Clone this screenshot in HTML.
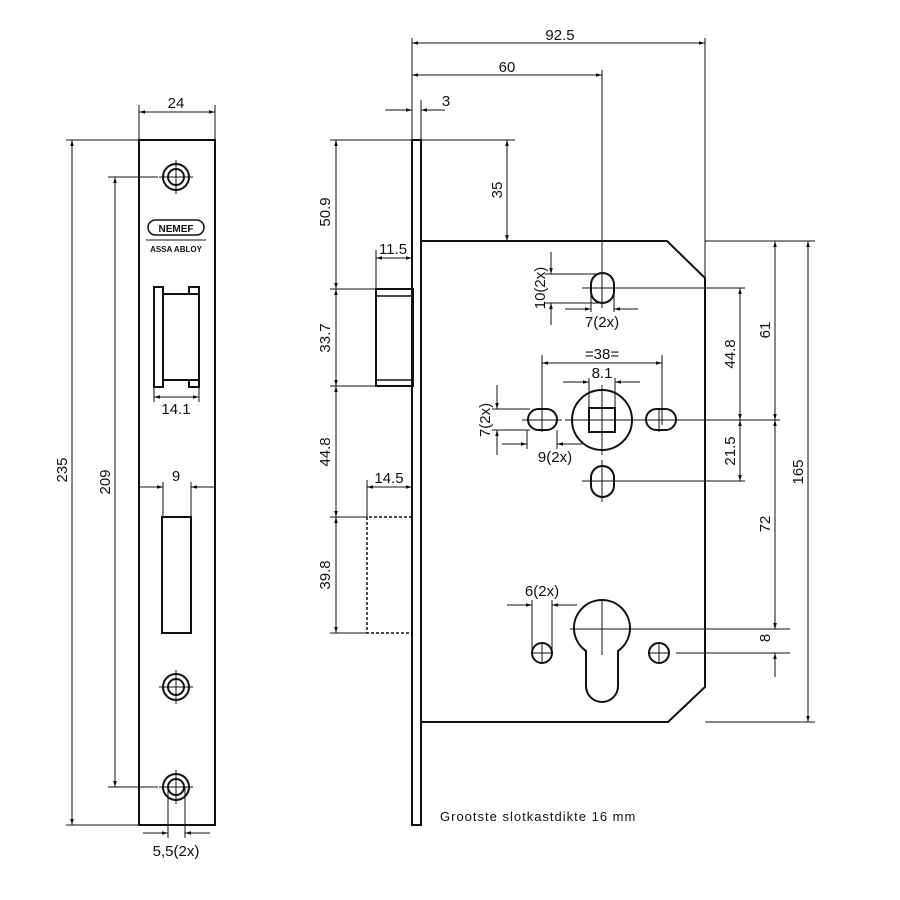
<!DOCTYPE html>
<html><head><meta charset="utf-8"><style>
html,body{margin:0;padding:0;background:#fff;width:900px;height:900px;overflow:hidden}
svg text{font-family:"Liberation Sans",sans-serif;font-size:15px;fill:#111}
</style></head><body>
<svg width="900" height="900" viewBox="0 0 900 900" xmlns="http://www.w3.org/2000/svg">
<defs>
<marker id="a" viewBox="0 0 10 10" refX="10" refY="5" markerWidth="8" markerHeight="6" orient="auto-start-reverse" markerUnits="userSpaceOnUse"><path d="M0,2 L10,5 L0,8z" fill="#111"/></marker>
</defs>
<g fill="none" stroke="#111" stroke-width="2">
<rect x="139" y="140" width="76" height="685"/>
<circle cx="176" cy="177" r="13"/><circle cx="176" cy="177" r="8"/>
<circle cx="176" cy="687" r="13"/><circle cx="176" cy="687" r="8"/>
<circle cx="176" cy="787" r="13"/><circle cx="176" cy="787" r="8"/>
<rect x="148" y="220" width="56" height="15" rx="7.5" stroke-width="1.5"/>
<rect x="154" y="287" width="9" height="100"/>
<rect x="163" y="294" width="36" height="86"/>
<rect x="189" y="287" width="10" height="7"/>
<rect x="189" y="380" width="10" height="7"/>
<rect x="162" y="517" width="29" height="116"/>
<rect x="412" y="140" width="9" height="685"/>
<path d="M421,241 H667 L705,278 V687 L668,722 H421"/>
<rect x="376" y="289" width="37" height="97"/>
<path d="M376,296 H412 M376,380 H412" stroke-width="1.5"/>
<path d="M412,517 H367 V633 H412" stroke-dasharray="3,2" stroke-width="1.5"/>
<rect x="591" y="273" width="23" height="30" rx="11.5"/>
<rect x="591" y="466" width="23" height="31" rx="11.5"/>
<circle cx="602" cy="420" r="30"/>
<rect x="589" y="408" width="26" height="24"/>
<rect x="528" y="409" width="29" height="21" rx="10.5"/>
<rect x="646" y="409" width="30" height="21" rx="10.5"/>
<path d="M586,651 A28,28 0 1 1 618,651 V686 A16,16 0 0 1 586,686 Z"/>
<circle cx="542" cy="653" r="10"/><circle cx="659" cy="653" r="10"/>
</g>
<g fill="none" stroke="#111" stroke-width="1">
<path d="M139,105 V140 M215,105 V140"/>
<path d="M139,112 H215" marker-start="url(#a)" marker-end="url(#a)"/>
<path d="M66,140 H139 M66,825 H139"/>
<path d="M72,140 V825" marker-start="url(#a)" marker-end="url(#a)"/>
<path d="M108,177 H158 M108,787 H158"/>
<path d="M115,177 V787" marker-start="url(#a)" marker-end="url(#a)"/>
<path d="M154,387 V402 M199,387 V402"/>
<path d="M154,397 H199" marker-start="url(#a)" marker-end="url(#a)"/>
<path d="M163,482 V517 M191,482 V517"/>
<path d="M139,487 H163" marker-end="url(#a)"/>
<path d="M215,487 H191" marker-end="url(#a)"/>
<path d="M168,787 V838 M185,787 V838"/>
<path d="M143,833 H168" marker-end="url(#a)"/><path d="M210,833 H185" marker-end="url(#a)"/>
<path d="M176,160 V194 M159,177 H193 M176,670 V704 M159,687 H193 M176,770 V804 M159,787 H193"/>
<path d="M146,240 H206"/>
<path d="M412,38 V140 M705,38 V280 M602,70 V305"/>
<path d="M412,43 H705" marker-start="url(#a)" marker-end="url(#a)"/>
<path d="M412,75 H602" marker-start="url(#a)" marker-end="url(#a)"/>
<path d="M421,100 V140"/>
<path d="M385,110 H412" marker-end="url(#a)"/><path d="M445,110 H421" marker-end="url(#a)"/>
<path d="M421,140 H515"/>
<path d="M507,140 V241" marker-start="url(#a)" marker-end="url(#a)"/>
<path d="M330,140 H412 M330,289 H376 M330,386 H376 M330,517 H367 M330,633 H367"/>
<path d="M336,140 V289" marker-start="url(#a)" marker-end="url(#a)"/>
<path d="M336,289 V386" marker-start="url(#a)" marker-end="url(#a)"/>
<path d="M336,386 V517" marker-start="url(#a)" marker-end="url(#a)"/>
<path d="M336,517 V633" marker-start="url(#a)" marker-end="url(#a)"/>
<path d="M376,250 V289"/>
<path d="M376,258 H412" marker-start="url(#a)" marker-end="url(#a)"/>
<path d="M367,480 V517"/>
<path d="M367,487 H412" marker-start="url(#a)" marker-end="url(#a)"/>
<path d="M545,274 H600 M545,303 H600"/>
<path d="M551,252 V274" marker-end="url(#a)"/><path d="M551,325 V303" marker-end="url(#a)"/>
<path d="M591,290 V312 M614,290 V312"/>
<path d="M565,309 H591" marker-end="url(#a)"/><path d="M638,309 H614" marker-end="url(#a)"/>
<path d="M620,288 H745 M680,420 H780 M620,481 H745 M634,629 H790 M676,653 H790"/>
<path d="M582,288 H622 M602,268 V308 M582,481 H622 M602,460 V502"/>
<path d="M542,355 V425 M662,355 V425"/>
<path d="M542,363 H662" marker-start="url(#a)" marker-end="url(#a)"/>
<path d="M589,378 V410 M615,378 V410"/>
<path d="M563,382 H589" marker-end="url(#a)"/><path d="M640,382 H615" marker-end="url(#a)"/>
<path d="M565,420 H640 M602,385 V455 M522,420 H562 M542,408 V432 M640,420 H680 M659,408 V432"/>
<path d="M492,409 H530 M492,430 H530"/>
<path d="M497,385 V409" marker-end="url(#a)"/><path d="M497,455 V430" marker-end="url(#a)"/>
<path d="M527,430 V449 M557,430 V449"/>
<path d="M502,444 H527" marker-end="url(#a)"/><path d="M582,444 H557" marker-end="url(#a)"/>
<path d="M740,288 V420" marker-start="url(#a)" marker-end="url(#a)"/>
<path d="M740,420 V481" marker-start="url(#a)" marker-end="url(#a)"/>
<path d="M705,241 H815 M705,722 H815"/>
<path d="M775,241 V420" marker-start="url(#a)" marker-end="url(#a)"/>
<path d="M775,420 V629" marker-start="url(#a)" marker-end="url(#a)"/>
<path d="M775,605 V629" marker-end="url(#a)"/><path d="M775,677 V653" marker-end="url(#a)"/>
<path d="M808,241 V722" marker-start="url(#a)" marker-end="url(#a)"/>
<path d="M602,600 V655 M570,629 H634"/>
<path d="M532,600 V653 M552,600 V653"/>
<path d="M507,605 H532" marker-end="url(#a)"/><path d="M577,605 H552" marker-end="url(#a)"/>
<path d="M532,653 H552 M542,643 V663 M649,653 H669 M659,643 V663"/>
</g>
<text x="176" y="108" text-anchor="middle">24</text>
<text transform="translate(67,470) rotate(-90)" text-anchor="middle">235</text>
<text transform="translate(110,482) rotate(-90)" text-anchor="middle">209</text>
<text x="176" y="232" text-anchor="middle" style="font-size:10px;font-weight:bold">NEMEF</text>
<text x="176" y="252" text-anchor="middle" style="font-size:8px;font-weight:bold">ASSA ABLOY</text>
<text x="176" y="414" text-anchor="middle">14.1</text>
<text x="176" y="481" text-anchor="middle">9</text>
<text x="176" y="856" text-anchor="middle">5,5(2x)</text>
<text x="560" y="40" text-anchor="middle">92.5</text>
<text x="507" y="72" text-anchor="middle">60</text>
<text x="446" y="106" text-anchor="middle">3</text>
<text transform="translate(502,190) rotate(-90)" text-anchor="middle">35</text>
<text transform="translate(330,212) rotate(-90)" text-anchor="middle">50.9</text>
<text transform="translate(330,338) rotate(-90)" text-anchor="middle">33.7</text>
<text transform="translate(330,452) rotate(-90)" text-anchor="middle">44.8</text>
<text transform="translate(330,575) rotate(-90)" text-anchor="middle">39.8</text>
<text x="393" y="254" text-anchor="middle">11.5</text>
<text x="389" y="483" text-anchor="middle">14.5</text>
<text transform="translate(545,288) rotate(-90)" text-anchor="middle">10(2x)</text>
<text x="602" y="327" text-anchor="middle">7(2x)</text>
<text x="602" y="359" text-anchor="middle">=38=</text>
<text x="602" y="378" text-anchor="middle">8.1</text>
<text transform="translate(490,420) rotate(-90)" text-anchor="middle">7(2x)</text>
<text x="555" y="462" text-anchor="middle">9(2x)</text>
<text x="542" y="596" text-anchor="middle">6(2x)</text>
<text transform="translate(735,354) rotate(-90)" text-anchor="middle">44.8</text>
<text transform="translate(735,451) rotate(-90)" text-anchor="middle">21.5</text>
<text transform="translate(770,330) rotate(-90)" text-anchor="middle">61</text>
<text transform="translate(770,524) rotate(-90)" text-anchor="middle">72</text>
<text transform="translate(770,638) rotate(-90)" text-anchor="middle">8</text>
<text transform="translate(803,472) rotate(-90)" text-anchor="middle">165</text>
<text x="440" y="821" style="font-size:13px;letter-spacing:1px">Grootste slotkastdikte 16 mm</text>
</svg>
</body></html>
